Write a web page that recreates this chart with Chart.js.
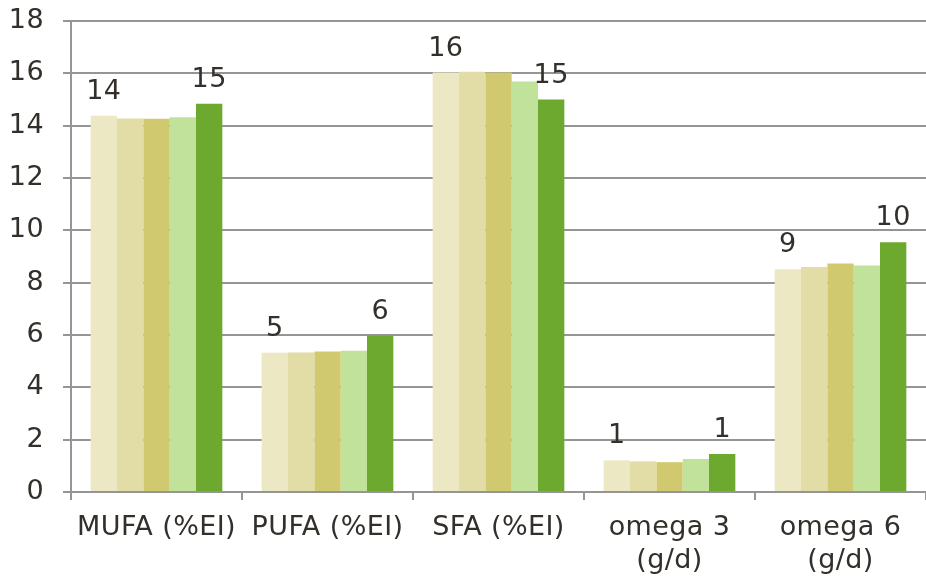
<!DOCTYPE html>
<html>
<head>
<meta charset="utf-8">
<script src="https://cdn.jsdelivr.net/npm/chart.js@4/dist/chart.umd.min.js"></script>
<style>
html,body{margin:0;padding:0;background:#fff;}
#wrap{width:926px;height:576px;position:relative;}
</style>
</head>
<body>
<div id="wrap"><canvas id="c"></canvas></div>
<script>
const categories = ["MUFA (%EI)", "PUFA (%EI)", "SFA (%EI)", ["omega 3", "(g/d)"], ["omega 6", "(g/d)"]];
const series1 = [14.38, 5.32, 16.03, 1.21, 8.51];
const series2 = [14.27, 5.33, 16.06, 1.17, 8.60];
const series3 = [14.26, 5.37, 16.03, 1.14, 8.73];
const series4 = [14.32, 5.40, 15.69, 1.26, 8.66];
const series5 = [14.84, 5.97, 15.00, 1.45, 9.54];
const yTicks = [0, 2, 4, 6, 8, 10, 12, 14, 16, 18];
const colors = ["#ECE8C4", "#E2DDA6", "#D1C96F", "#C0E29A", "#6DA92F"];
const labelledSeries = [0, 4];

const FONT = "'DejaVu Sans', Verdana, sans-serif";
const FSIZE = 27;
const TEXT = "#332f2a";
const GRID = "#959595";
const LS = '0.4px';

const spacing = {
  id: 'spacing',
  beforeUpdate(chart) { chart.ctx.letterSpacing = LS; },
  beforeLayout(chart) { chart.ctx.letterSpacing = LS; },
  beforeDraw(chart) { chart.ctx.letterSpacing = LS; }
};

const valueLabels = {
  id: 'valueLabels',
  afterDatasetsDraw(chart) {
    const ctx = chart.ctx;
    ctx.save();
    ctx.font = FSIZE + "px " + FONT;
    ctx.fillStyle = TEXT;
    ctx.textAlign = 'center';
    ctx.textBaseline = 'alphabetic';
    labelledSeries.forEach(di => {
      const meta = chart.getDatasetMeta(di);
      meta.data.forEach((bar, i) => {
        const v = chart.data.datasets[di].data[i];
        ctx.fillText(String(Math.round(v)), bar.x, bar.y - 17);
      });
    });
    ctx.restore();
  }
};

const allSeries = [series1, series2, series3, series4, series5];
new Chart(document.getElementById('c'), {
  type: 'bar',
  data: {
    labels: categories,
    datasets: allSeries.map((s, i) => ({
      label: 'S' + (i + 1),
      data: s,
      backgroundColor: colors[i],
      borderWidth: 0,
      categoryPercentage: 0.77,
      barPercentage: 1.0
    }))
  },
  options: {
    responsive: true,
    maintainAspectRatio: false,
    animation: false,
    layout: { padding: { top: 21, right: 0, left: 0, bottom: 0 } },
    plugins: { legend: { display: false }, tooltip: { enabled: false } },
    scales: {
      x: {
        offset: true,
        grid: { display: true, drawOnChartArea: false, drawTicks: true, tickLength: 8, color: GRID, lineWidth: 2 },
        border: { display: true, color: GRID, width: 2 },
        ticks: { color: TEXT, font: { family: FONT, size: FSIZE, lineHeight: 1.2 }, padding: 12, maxRotation: 0, autoSkip: false },
        afterFit(scale) { scale.height = 84; scale.paddingLeft = 0; scale.paddingRight = 0; }
      },
      y: {
        min: 0, max: 18,
        afterBuildTicks(scale) { scale.ticks = yTicks.map(v => ({ value: v })); },
        grid: { color: GRID, lineWidth: 2, drawTicks: true, tickLength: 8 },
        border: { display: true, color: GRID, width: 2 },
        ticks: { color: TEXT, font: { family: FONT, size: FSIZE }, padding: 19 },
        afterFit(scale) { scale.width = 71; scale.paddingTop = 0; scale.paddingBottom = 0; }
      }
    }
  },
  plugins: [spacing, valueLabels]
});
</script>
</body>
</html>
